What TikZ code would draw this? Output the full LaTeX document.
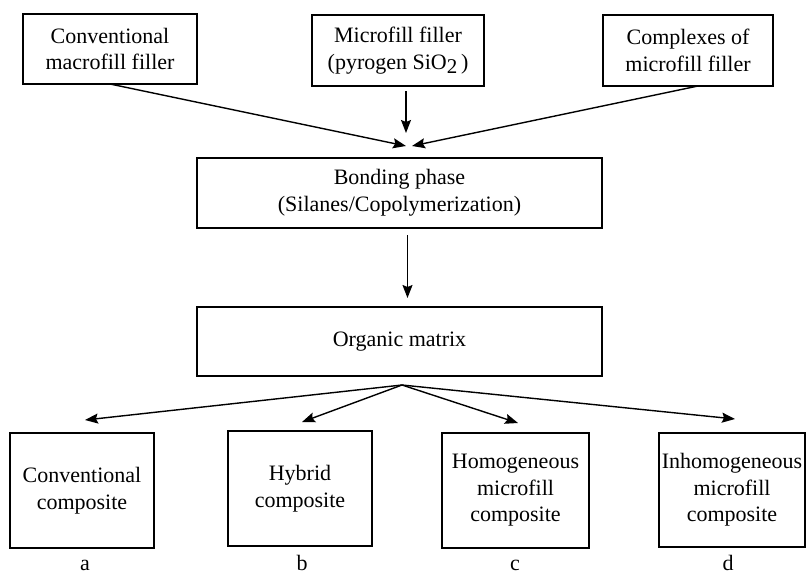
\documentclass[tikz,border=0pt]{standalone}
\usepackage{fontspec}
\setmainfont{Liberation Serif}
\usetikzlibrary{arrows.meta}
\begin{document}
\begin{tikzpicture}[x=0.5pt,y=-0.5pt,
  box/.style={draw, line width=0.75pt, inner sep=0pt, outer sep=0pt, align=center,
    font=\fontsize{11}{13.3}\selectfont},
  arr/.style={line width=0.7pt, -{Stealth[length=6.5pt,width=5pt,inset=1pt]}},
  lbl/.style={font=\fontsize{11}{13.3}\selectfont, anchor=base, inner sep=0pt}]
\useasboundingbox (0,0) rectangle (806,578);
% top boxes
\node[box, minimum width=87pt, minimum height=35pt] (conv) at (110,49) {Conventional\\macrofill filler};
\node[box, minimum width=86pt, minimum height=35.5pt] (micro) at (398,50.5) {Microfill filler\\(pyrogen SiO\raisebox{-2.2pt}{\fontsize{10.5}{12}\selectfont 2}\,)};
\node[box, minimum width=85pt, minimum height=35.5pt] (cplx) at (688,50.5) {Complexes of\\microfill filler};
% middle boxes
\node[box, minimum width=202.5pt, minimum height=35pt] (bond) at (399.5,193) {Bonding phase\\(Silanes/Copolymerization)};
\node[box, minimum width=202.5pt, minimum height=34.5pt] (org) at (399.5,341.5) {Organic matrix};
% bottom boxes
\node[box, minimum width=72pt, minimum height=57.5pt] (ca) at (82,490.5) {Conventional\\composite};
\node[box, minimum width=72pt, minimum height=57.5pt] (cb) at (300,488.5) {Hybrid\\composite};
\node[box, minimum width=73.5pt, minimum height=57.5pt] (cc) at (515.5,490.5) {Homogeneous\\microfill\\composite};
\node[box, minimum width=73pt, minimum height=57pt] (cd) at (732,490) {Inhomogeneous\\microfill\\composite};
% labels
\node[lbl] (la) at (85,570) {a};
\node[lbl] (lb) at (302,570) {b};
\node[lbl] (lc) at (515,570) {c};
\node[lbl] (ld) at (728,570) {d};
% convergence
\coordinate (tipL) at (406,146);
\coordinate (tipR) at (412,146);
\draw[arr] (conv.south) -- (tipL);
\draw[arr] ([yshift=-2.5pt]micro.south -| tipL) -- ([yshift=6.5pt]tipL);
\draw[arr] ([xshift=5pt]cplx.south) -- (tipR);
\draw[arr] ([xshift=4pt,yshift=-3.5pt]bond.south) -- ([xshift=4pt,yshift=4.5pt]org.north);
% fan
\coordinate (fan) at (402,385);
\coordinate (ta) at (85,420);
\coordinate (tb) at (302,422);
\coordinate (tc) at (518,423);
\coordinate (td) at (735,419);
\draw[arr] (fan) -- (ta);
\draw[arr] (fan) -- (tb);
\draw[arr] (fan) -- (tc);
\draw[arr] (fan) -- (td);
\end{tikzpicture}
\end{document}
